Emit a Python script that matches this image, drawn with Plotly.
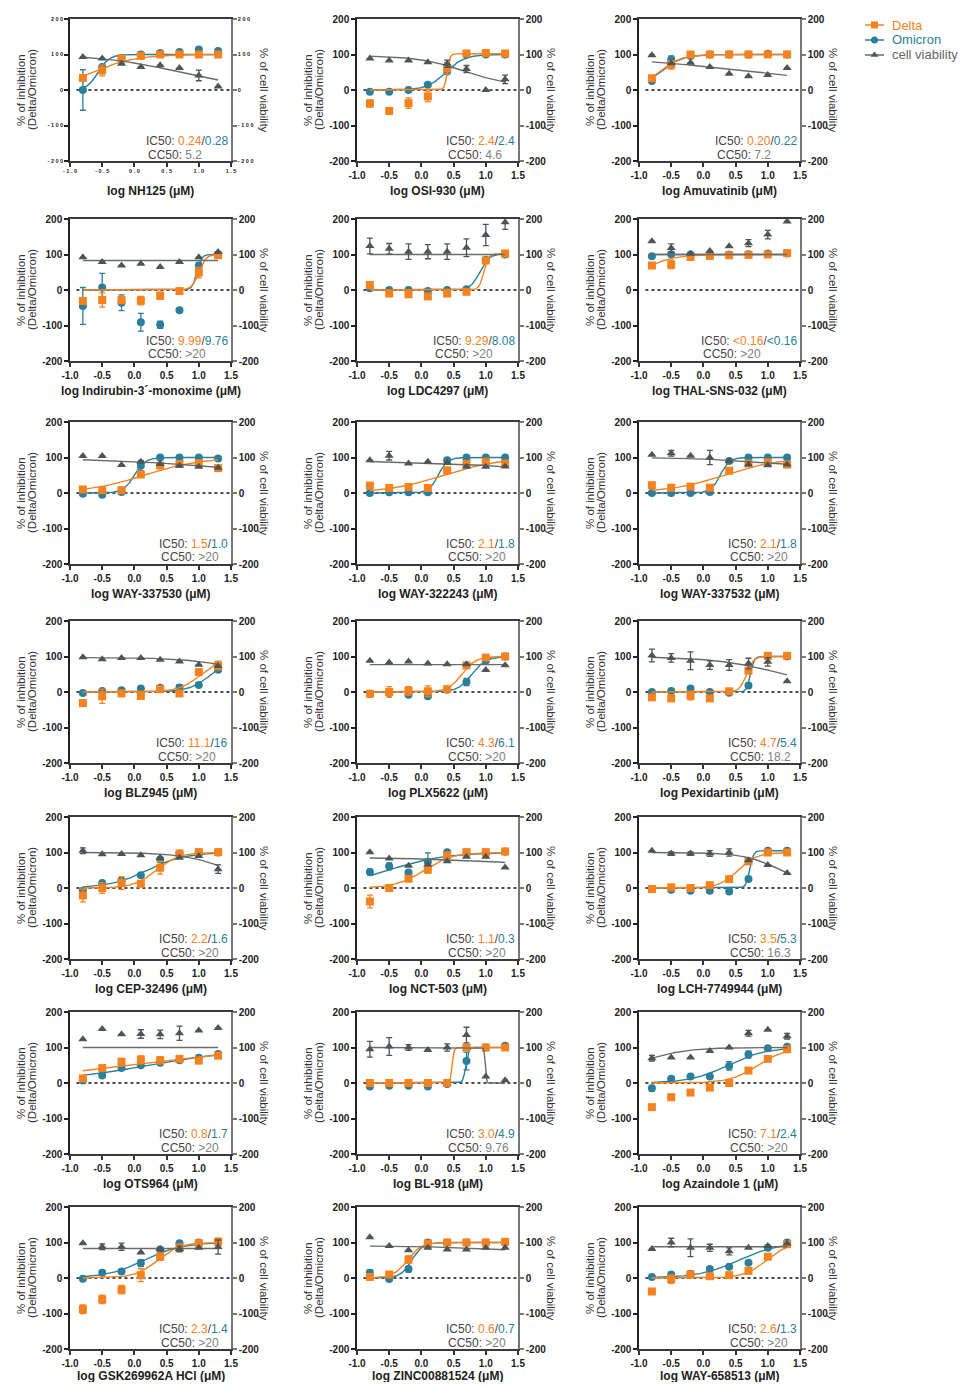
import numpy as np
import plotly.graph_objects as go

W, H = 967, 1390
PAGE_PAD = 8          # default body margin of the html page
FW, FH = W - PAGE_PAD, H - 2 * PAGE_PAD

# ---------------- data ----------------
X = [-0.8, -0.5, -0.2, 0.1, 0.4, 0.7, 1.0, 1.3]

DRUGS = ["NH125", "OSI-930", "Amuvatinib",
         "Indirubin-3´-monoxime", "LDC4297", "THAL-SNS-032",
         "WAY-337530", "WAY-322243", "WAY-337532",
         "BLZ945", "PLX5622", "Pexidartinib",
         "CEP-32496", "NCT-503", "LCH-7749944",
         "OTS964", "BL-918", "Azaindole 1",
         "GSK269962A HCl", "ZINC00881524", "WAY-658513"]

IC50_DELTA = ["0.24", "2.4", "0.20", "9.99", "9.29", "<0.16", "1.5", "2.1", "2.1",
              "11.1", "4.3", "4.7", "2.2", "1.1", "3.5", "0.8", "3.0", "7.1",
              "2.3", "0.6", "2.6"]
IC50_OMICRON = ["0.28", "2.4", "0.22", "9.76", "8.08", "<0.16", "1.0", "1.8", "1.8",
                "16", "6.1", "5.4", "1.6", "0.3", "5.3", "1.7", "4.9", "2.4",
                "1.4", "0.7", "1.3"]
CC50 = ["5.2", "4.6", "7.2", ">20", ">20", ">20", ">20", ">20", ">20",
        ">20", ">20", "18.2", ">20", ">20", "16.3", ">20", "9.76", ">20",
        ">20", ">20", ">20"]

DELTA = [
    [34, 55, 89, 96, 100, 100, 100, 100],
    [-38, -59, -37, -18, 62, 103, 104, 103],
    [33, 71, 100, 100, 100, 100, 100, 100],
    [-31, -28, -28, -30, -16, -3, 49, 98],
    [14, -10, -12, -18, -10, -5, 83, 103],
    [69, 72, 93, 96, 98, 99, 100, 104],
    [10, 8, 8, 52, 77, 82, 84, 70],
    [21, 14, 17, 14, 64, 82, 88, 83],
    [22, 15, 18, 15, 63, 83, 86, 80],
    [-31, -12, -4, -11, 8, -4, 56, 75],
    [-5, 0, 3, 2, 8, 75, 97, 100],
    [-15, -18, -10, -18, 2, 60, 102, 102],
    [-21, 0, 14, 12, 57, 97, 101, 101],
    [-38, 0, 26, 52, 92, 101, 101, 103],
    [-3, 2, 0, 8, 25, 75, 100, 100],
    [13, 42, 60, 66, 64, 68, 63, 77],
    [0, 0, 0, 0, 0, 100, 100, 100],
    [-68, -40, -27, -13, 0, 35, 68, 95],
    [-88, -60, -33, 8, 60, 85, 98, 102],
    [3, 10, 52, 97, 100, 100, 100, 102],
    [-38, -3, 10, 5, 8, 20, 60, 95],
]
OMICRON = [
    [0, 65, 90, 100, 104, 107, 114, 110],
    [-5, -5, 0, 15, 52, 100, 100, 100],
    [25, 86, 96, 100, 100, 100, 102, 100],
    [-45, 7, -36, -91, -98, -57, 68, 100],
    [5, 0, 0, -3, 0, 2, 85, 100],
    [95, 101, 100, 100, 100, 101, 103, 103],
    [-2, -5, 3, 77, 100, 100, 100, 97],
    [0, 2, 2, 2, 92, 100, 100, 100],
    [0, 0, 0, 3, 90, 100, 100, 100],
    [-3, 3, 5, 10, 12, 13, 20, 63],
    [-5, -3, -8, -12, 6, 28, 88, 100],
    [0, 3, 10, 0, -2, 18, 100, 100],
    [-8, 14, 21, 36, 80, 97, 100, 100],
    [45, 61, 44, 74, 101, 100, 100, 102],
    [-3, -5, -8, -8, -10, 25, 105, 105],
    [7, 21, 42, 50, 57, 64, 71, 82],
    [-10, -8, -8, -10, -3, 62, 100, 105],
    [-15, 12, 18, 18, 48, 80, 98, 102],
    [-2, 15, 18, 42, 80, 98, 100, 100],
    [15, -3, 25, 100, 100, 100, 100, 100],
    [3, 10, 12, 25, 32, 43, 85, 100],
]
VIAB = [
    [93, 89, 74, 65, 70, 62, 41, 10],
    [89, 83, 83, 78, 74, 59, 0, 30],
    [98, 75, 77, 65, 46, 39, 42, 62],
    [92, 79, 69, 74, 65, 79, 92, 107],
    [124, 116, 108, 108, 108, 119, 155, 191],
    [137, 118, 102, 110, 123, 132, 156, 193],
    [104, 104, 79, 88, 82, 77, 74, 71],
    [92, 105, 83, 88, 85, 74, 74, 75],
    [108, 112, 105, 100, 90, 80, 78, 80],
    [98, 92, 96, 96, 91, 86, 77, 73],
    [88, 83, 86, 80, 78, 78, 62, 75],
    [103, 96, 88, 76, 76, 80, 85, 30],
    [105, 95, 96, 92, 85, 85, 90, 53],
    [101, 83, 63, 66, 75, 88, 88, 58],
    [105, 97, 97, 97, 100, 78, 65, 42],
    [123, 152, 137, 138, 137, 140, 148, 155],
    [95, 103, 100, 93, 100, 135, 18, 8],
    [70, 72, 72, 90, 100, 140, 150, 132],
    [98, 88, 88, 72, 82, 82, 85, 87],
    [115, 90, 78, 85, 80, 80, 85, 85],
    [82, 100, 85, 85, 75, 85, 90, 97],
]

# SEM (0 = no visible bar)
DELTA_ERR = [
    [0, 15, 0, 0, 0, 0, 0, 0],
    [10, 0, 15, 15, 15, 0, 0, 0],
    [8, 12, 0, 0, 0, 0, 0, 0],
    [0, 20, 10, 12, 10, 0, 15, 0],
    [0, 0, 0, 0, 0, 0, 0, 0],
    [0, 12, 0, 0, 0, 0, 0, 0],
    [0, 0, 0, 0, 0, 0, 0, 0],
    [0, 0, 0, 0, 0, 0, 0, 0],
    [0, 0, 0, 0, 0, 0, 0, 0],
    [0, 20, 0, 10, 0, 0, 0, 12],
    [0, 15, 12, 15, 0, 0, 0, 0],
    [0, 0, 12, 0, 0, 0, 0, 0],
    [18, 15, 18, 0, 18, 0, 0, 0],
    [18, 0, 0, 10, 0, 0, 8, 8],
    [0, 0, 0, 0, 0, 0, 0, 0],
    [0, 0, 0, 10, 10, 0, 0, 0],
    [0, 0, 0, 0, 0, 0, 0, 0],
    [0, 0, 0, 0, 0, 0, 0, 0],
    [12, 12, 12, 18, 10, 10, 0, 10],
    [0, 0, 10, 0, 8, 8, 8, 8],
    [0, 12, 0, 0, 0, 0, 0, 0],
]
OMICRON_ERR = [
    [57, 0, 0, 0, 0, 0, 0, 0],
    [0, 0, 0, 0, 0, 0, 0, 0],
    [0, 10, 0, 0, 0, 0, 0, 0],
    [52, 40, 22, 25, 10, 0, 10, 0],
    [0, 0, 0, 0, 0, 0, 0, 0],
    [0, 0, 0, 0, 0, 0, 0, 0],
    [0, 0, 0, 15, 0, 0, 0, 0],
    [0, 0, 0, 0, 0, 0, 0, 0],
    [0, 0, 0, 0, 0, 0, 0, 0],
    [0, 0, 0, 0, 0, 8, 5, 0],
    [0, 0, 0, 0, 0, 10, 0, 0],
    [0, 0, 0, 0, 0, 0, 0, 0],
    [0, 0, 0, 0, 0, 0, 0, 0],
    [8, 10, 0, 25, 0, 0, 0, 0],
    [0, 0, 0, 0, 0, 0, 0, 0],
    [0, 0, 0, 0, 0, 0, 0, 0],
    [0, 0, 0, 0, 0, 25, 0, 0],
    [8, 0, 0, 0, 12, 10, 0, 0],
    [0, 0, 0, 10, 0, 0, 0, 0],
    [8, 0, 8, 0, 0, 0, 0, 0],
    [0, 0, 0, 0, 0, 0, 0, 0],
]
VIAB_ERR = [
    [0, 0, 0, 0, 0, 0, 15, 0],
    [0, 0, 0, 0, 10, 10, 0, 12],
    [0, 0, 0, 0, 0, 0, 0, 0],
    [0, 0, 0, 0, 0, 0, 0, 0],
    [22, 15, 22, 20, 22, 25, 30, 20],
    [0, 12, 0, 0, 0, 10, 12, 0],
    [0, 0, 0, 0, 0, 0, 0, 0],
    [0, 12, 0, 0, 0, 0, 0, 0],
    [0, 8, 0, 20, 0, 0, 0, 0],
    [0, 0, 0, 0, 0, 0, 0, 0],
    [0, 0, 0, 0, 0, 0, 0, 0],
    [18, 12, 25, 12, 15, 15, 12, 0],
    [8, 0, 0, 0, 0, 0, 0, 12],
    [0, 0, 0, 0, 0, 0, 0, 0],
    [0, 5, 5, 8, 10, 0, 0, 0],
    [0, 0, 0, 12, 12, 20, 0, 0],
    [22, 25, 8, 0, 10, 22, 0, 0],
    [8, 0, 0, 0, 0, 8, 0, 8],
    [0, 8, 10, 0, 0, 8, 0, 20],
    [0, 0, 0, 0, 0, 0, 0, 0],
    [0, 12, 25, 10, 10, 0, 0, 0],
]

# fitted 4-parameter logistic curves: (value at low dose, value at high dose, log EC50, hill)
DELTA_FIT = [
    (0, 100, -0.65, 1.3), (0, 102, 0.40, 20), (0, 100, -0.70, 2.5),
    (0, 100, 1.00, 8), (0, 102, 0.97, 12), (0, 100, -1.0, 1.8),
    (0, 100, 0.15, 1.0), (0, 100, 0.35, 1.0), (0, 100, 0.32, 1.0),
    (0, 100, 1.045, 2.5), (0, 100, 0.63, 4), (0, 100, 0.67, 8),
    (0, 100, 0.34, 2.5), (0, 100, 0.04, 2), (0, 100, 0.54, 3),
    (0, 100, -0.1, 0.4), (0, 100, 0.477, 30), (0, 100, 0.85, 2),
    (0, 100, 0.36, 2.5), (0, 100, -0.22, 4), (0, 100, 0.98, 2.5),
]
OMICRON_FIT = [
    (0, 100, -0.56, 5), (0, 100, 0.38, 3), (0, 100, -0.68, 2.5),
    (0, 100, 0.97, 12), (0, 102, 0.907, 6), (100, 100, 0, 1),
    (0, 100, 0.0, 5), (0, 100, 0.26, 6), (0, 100, 0.26, 6),
    (0, 100, 1.2, 2.5), (0, 100, 0.785, 4), (0, 100, 0.73, 15),
    (0, 100, 0.2, 1.5), (0, 100, -0.52, 1), (0, 105, 0.72, 15),
    (0, 100, 0.23, 0.55), (0, 100, 0.69, 20), (0, 100, 0.38, 1.5),
    (0, 100, 0.15, 1.5), (0, 100, -0.15, 5), (0, 100, 0.55, 1.4),
]
VIAB_FIT = [
    (100, 0, 0.72, 0.7), (97, 10, 0.66, 1.2), (100, 0, 0.86, 0.35),
    (83, 83, 0, 1), (100, 100, 0, 1), (100, 100, 0, 1),
    (100, 0, 2.5, 0.35), (92, 0, 2.8, 0.4), (102, 0, 2.6, 0.45),
    (97, 0, 1.9, 1.0), (77, 77, 0, 1), (100, 0, 1.26, 0.8),
    (100, 0, 1.5, 1.2), (87, 0, 3.0, 0.4), (100, 0, 1.21, 1.5),
    (100, 100, 0, 1), (100, 0, 0.99, 50), (30, 100, -0.9, 1.3),
    (83, 83, 0, 1), (91, 0, 3.0, 0.5), (88, 88, 0, 1),
]

X_TICKS = [-1.0, -0.5, 0.0, 0.5, 1.0, 1.5]
Y_TICKS = [-200, -100, 0, 100, 200]
LEGEND_NAMES = ["Delta", "Omicron", "cell viability"]

# ---------------- styling / layout ----------------
OR = "#F5821F"
TE = "#2A7F9C"
GR = "#4E5557"
GRL = "#6B6B6B"
FONT = "Liberation Sans"

COL_L = [70, 357, 639]
COL_R = [231, 518, 800]
ROW_T = [19, 219, 422, 621, 817, 1012, 1207]
PH = 142

# Arial/Liberation Sans advance widths (1/1000 em) for the annotation glyphs
ARIAL_W = {"I": 278, "C": 722, ":": 278, " ": 278, ".": 278, "/": 278,
           "<": 584, ">": 584}


def text_width(s, size):
    return sum(ARIAL_W.get(ch, 556) for ch in s) * size / 1000.0


def esc(s):
    return s.replace("<", "&lt;").replace(">", "&gt;")


def fx(px):
    return (px - PAGE_PAD) / FW


def fy(py):
    return 1 - (py - PAGE_PAD) / FH


def logistic(x, fit):
    a, b, c, h = fit
    return a + (b - a) / (1 + 10 ** (h * (c - x)))


xs = np.linspace(-0.8, 1.3, 421)

fig = go.Figure()
layout = {}
annotations = []
shapes = []

for k in range(21):
    r, c = divmod(k, 3)
    L, R, T = COL_L[c], COL_R[c], ROW_T[r]
    xn = k + 1
    yl = 2 * k + 1
    yr = 2 * k + 2
    xid = "x" if xn == 1 else f"x{xn}"
    ylid = "y" if yl == 1 else f"y{yl}"
    yrid = f"y{yr}"

    tiny = (k == 0)
    tsize = 5.5 if tiny else 10
    tfont = dict(family=FONT, size=tsize, color="#222", weight="bold")
    if tiny:
        xtt = ["\u00a0".join(f"{v:.1f}") for v in X_TICKS]
        ytt = ["\u00a0".join(str(v)) for v in Y_TICKS]
    else:
        xtt = [f"{v:.1f}" for v in X_TICKS]
        ytt = [str(v) for v in Y_TICKS]

    layout["xaxis" if xn == 1 else f"xaxis{xn}"] = dict(
        domain=[fx(L), fx(R)], anchor=ylid, range=[-1.0, 1.5],
        tickvals=X_TICKS, ticktext=xtt, ticks="outside", ticklen=4, tickwidth=1.5,
        tickcolor="#333", showline=True, linecolor="#3a3a3a", linewidth=1.5, mirror=True,
        showgrid=False, zeroline=False, tickfont=tfont, fixedrange=True)
    layout["yaxis" if yl == 1 else f"yaxis{yl}"] = dict(
        domain=[fy(T + PH), fy(T)], anchor=xid, range=[-200, 200],
        tickvals=Y_TICKS, ticktext=ytt, ticks="outside", ticklen=4, tickwidth=1.5,
        tickcolor="#222", showline=True, linecolor="#222", linewidth=1.5,
        showgrid=False, zeroline=False, tickfont=tfont, fixedrange=True)
    layout[f"yaxis{yr}"] = dict(
        overlaying=ylid, side="right", anchor=xid, range=[-200, 200],
        tickvals=Y_TICKS, ticktext=ytt, ticks="outside", ticklen=4, tickwidth=1.5,
        tickcolor="#777", showline=True, linecolor="#777", linewidth=1.5,
        showgrid=False, zeroline=False, tickfont=tfont, fixedrange=True)

    # dotted zero line
    shapes.append(dict(type="line", xref=xid, yref=ylid, x0=-0.9, x1=1.5, y0=0, y1=0,
                       line=dict(color="#111", width=1.6, dash="dot"), layer="below"))

    # cell viability (right axis)
    fig.add_trace(go.Scatter(x=xs, y=logistic(xs, VIAB_FIT[k]), mode="lines",
                             line=dict(color=GRL, width=1.4), xaxis=xid, yaxis=yrid,
                             showlegend=False, hoverinfo="skip"))
    fig.add_trace(go.Scatter(x=X, y=VIAB[k], mode="markers",
                             marker=dict(symbol="triangle-up", size=8, color=GR),
                             error_y=dict(type="data", array=VIAB_ERR[k], color=GR,
                                          thickness=1.3, width=3),
                             xaxis=xid, yaxis=yrid, showlegend=False))
    # Omicron
    fig.add_trace(go.Scatter(x=xs, y=logistic(xs, OMICRON_FIT[k]), mode="lines",
                             line=dict(color=TE, width=1.4), xaxis=xid, yaxis=ylid,
                             showlegend=False, hoverinfo="skip"))
    fig.add_trace(go.Scatter(x=X, y=OMICRON[k], mode="markers",
                             marker=dict(symbol="circle", size=8, color=TE),
                             error_y=dict(type="data", array=OMICRON_ERR[k], color=TE,
                                          thickness=1.3, width=3),
                             xaxis=xid, yaxis=ylid, showlegend=False))
    # Delta
    fig.add_trace(go.Scatter(x=xs, y=logistic(xs, DELTA_FIT[k]), mode="lines",
                             line=dict(color=OR, width=1.4), xaxis=xid, yaxis=ylid,
                             showlegend=False, hoverinfo="skip"))
    fig.add_trace(go.Scatter(x=X, y=DELTA[k], mode="markers",
                             marker=dict(symbol="square", size=8, color=OR),
                             error_y=dict(type="data", array=DELTA_ERR[k], color=OR,
                                          thickness=1.3, width=3),
                             xaxis=xid, yaxis=ylid, showlegend=False))

    # titles
    annotations.append(dict(text="% of inhibition", textangle=-90, showarrow=False,
                            xref="paper", yref="paper", x=fx(L - 49), y=fy(T + 71),
                            xanchor="center", yanchor="middle",
                            font=dict(family=FONT, size=11.5, color="#333")))
    annotations.append(dict(text="(Delta/Omicron)", textangle=-90, showarrow=False,
                            xref="paper", yref="paper", x=fx(L - 38), y=fy(T + 71),
                            xanchor="center", yanchor="middle",
                            font=dict(family=FONT, size=11.5, color="#333")))
    annotations.append(dict(text="% of cell viability", textangle=90, showarrow=False,
                            xref="paper", yref="paper", x=fx(R + 33), y=fy(T + 71),
                            xanchor="center", yanchor="middle",
                            font=dict(family=FONT, size=11.5, color="#333")))
    annotations.append(dict(text=f"log {DRUGS[k]} (μM)", showarrow=False,
                            xref="paper", yref="paper", x=fx((L + R) / 2),
                            y=fy(min(T + PH + 30, 1376)),
                            xanchor="center", yanchor="middle",
                            font=dict(family=FONT, size=12, color="#222", weight="bold")))
    # IC50 / CC50 block (left-aligned lines, IC50 line ending at the right axis)
    ic_plain = f"IC50: {IC50_DELTA[k]}/{IC50_OMICRON[k]}"
    ic_w = text_width(ic_plain, 12)
    annotations.append(dict(
        text=(f"IC50: <span style='color:{OR}'>{esc(IC50_DELTA[k])}</span>/"
              f"<span style='color:{TE}'>{esc(IC50_OMICRON[k])}</span>"),
        showarrow=False, xref="paper", yref="paper",
        x=fx(R - 1), y=fy(T + 122), xanchor="right", yanchor="middle",
        font=dict(family=FONT, size=12, color="#4a4444")))
    annotations.append(dict(
        text=f"CC50: <span style='color:#808080'>{esc(CC50[k])}</span>",
        showarrow=False, xref="paper", yref="paper",
        x=fx(R - 1 - ic_w - 2), y=fy(T + 135.5), xanchor="left", yanchor="middle",
        font=dict(family=FONT, size=12, color="#4a4444")))

# ---------------- legend ----------------
layout["xaxis22"] = dict(domain=[fx(865), fx(884)], anchor="y43", range=[0, 1],
                         visible=False, fixedrange=True)
layout["yaxis43"] = dict(domain=[fy(62.5), fy(17.5)], anchor="x22", range=[0, 3],
                         visible=False, fixedrange=True)
leg_styles = [(OR, "square", OR), (TE, "circle", TE), (GRL, "triangle-up", "#666")]
for i, (name, (lc, sym, tc)) in enumerate(zip(LEGEND_NAMES, leg_styles)):
    yv = 2.5 - i
    fig.add_trace(go.Scatter(x=[0, 1], y=[yv, yv], mode="lines",
                             line=dict(color=lc, width=1.4), xaxis="x22", yaxis="y43",
                             showlegend=False, hoverinfo="skip"))
    fig.add_trace(go.Scatter(x=[0.5], y=[yv], mode="markers",
                             marker=dict(symbol=sym, size=7, color=lc if i < 2 else GR),
                             xaxis="x22", yaxis="y43", showlegend=False, hoverinfo="skip"))
    annotations.append(dict(text=name, showarrow=False, xref="paper", yref="paper",
                            x=fx(890), y=fy(25 + 15 * i), xanchor="left", yanchor="middle",
                            font=dict(family=FONT, size=13, color=tc)))

fig.update_layout(
    width=FW, height=FH, margin=dict(l=0, r=0, t=0, b=0),
    paper_bgcolor="white", plot_bgcolor="white", template="none",
    showlegend=False, annotations=annotations, shapes=shapes,
    font=dict(family=FONT), **layout)

fig.write_html("out.html")
